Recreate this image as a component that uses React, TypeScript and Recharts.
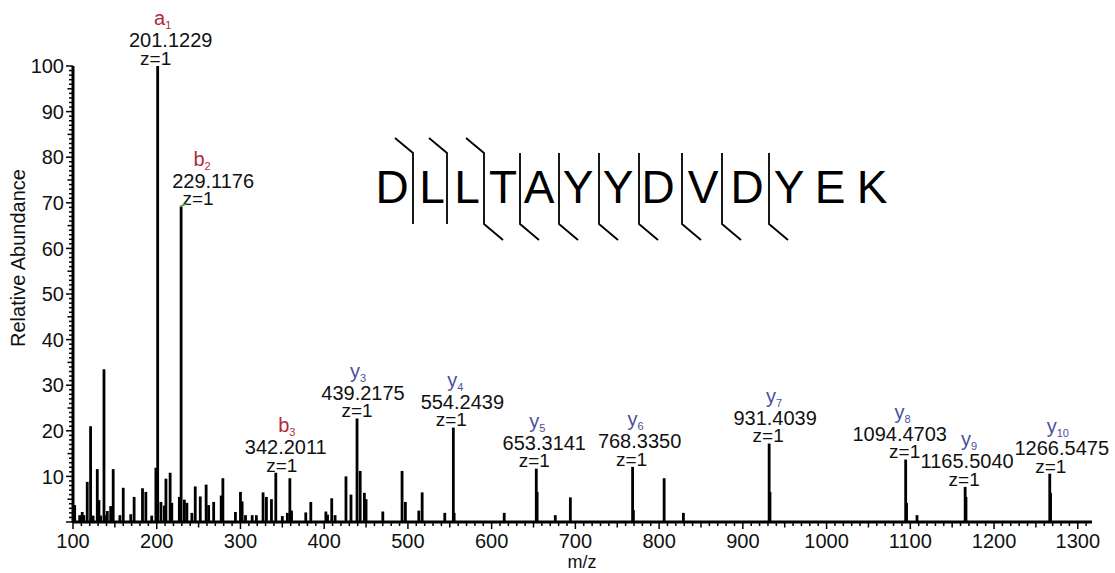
import React from 'react';
import { BarChart, Bar, XAxis, YAxis, LabelList } from 'recharts';

const FONT = '"Liberation Sans", Arial, Helvetica, sans-serif';
const RED = '#b3283c';
const BLUE = '#4b4f9e';

// unassigned peaks: m/z and relative abundance
const PEAK_MZ = [
  102, 108, 111, 113, 117, 121, 124, 129, 131, 133, 137, 140, 141, 145, 148, 156, 160, 169, 173, 183,
  187, 194, 199, 205, 209, 211, 216, 218, 227, 233, 236, 242, 246, 252, 259, 262, 268, 277, 279, 294,
  300, 302, 306, 314, 319, 327, 331, 337, 350, 356, 359, 361, 378, 384, 402, 404, 409, 413, 426, 432,
  443, 448, 450, 470, 493, 497, 513, 517, 544, 555.2, 615, 654.3, 676, 694, 769.3, 806, 829, 932.4,
  1095.5, 1108, 1166.5, 1267.5,
];
const PEAK_INT = [
  3.7, 1.5, 2.2, 1.5, 8.8, 21, 1.4, 11.6, 4.8, 1.4, 33.5, 1.5, 2.4, 3.5, 11.6, 1.5, 7.5, 1.7, 5.5, 7.4,
  6.6, 1.4, 11.9, 4.4, 3.6, 9.5, 10.8, 4.2, 5.5, 4.9, 4.2, 2, 7.8, 5.6, 8.2, 3.7, 4.4, 5.8, 9.6, 2.2,
  6.6, 4.5, 1.5, 1.5, 1.5, 6.5, 5.5, 5, 1.3, 2, 9.6, 2.5, 2.1, 4.4, 2.3, 1.6, 5.2, 1.5, 10, 6,
  11.2, 6.4, 5, 2.3, 11.2, 4.4, 2.5, 6.5, 2, 2, 2, 6.6, 1.5, 5.4, 2.6, 9.6, 2, 6.6,
  4.2, 1.5, 5.5, 6.4,
];

// annotated fragment ions
const ION_KEY = ['a1', 'b2', 'b3', 'y3', 'y4', 'y5', 'y6', 'y7', 'y8', 'y9', 'y10'];
const ION_TYPE = ['a', 'b', 'b', 'y', 'y', 'y', 'y', 'y', 'y', 'y', 'y'];
const ION_SUB = ['1', '2', '3', '3', '4', '5', '6', '7', '8', '9', '10'];
const ION_MZ = [201.1229, 229.1176, 342.2011, 439.2175, 554.2439, 653.3141, 768.335, 931.4039, 1094.4703, 1165.504, 1266.5475];
const ION_INT = [100, 69.2, 10.8, 22.7, 20.7, 11.7, 12.1, 17.2, 13.7, 7.7, 10.6];
const ION_Z = [1, 1, 1, 1, 1, 1, 1, 1, 1, 1, 1];

// label nudges [ion, m/z, charge] in px, relative to the peak
const LABEL_DX = [
  [5, 13, -2], [21, 32, 17], [11, 10, 6], [1, 6, 0], [2, 9, -2], [1, 8, -2],
  [3, 7, -1], [5, 6, -1], [-3, -6, -1], [4, 2, -1], [8, 12, 1],
];

const Y_MAJOR = [10, 20, 30, 40, 50, 60, 70, 80, 90, 100];
const X_MAJOR = [100, 200, 300, 400, 500, 600, 700, 800, 900, 1000, 1100, 1200, 1300];
const Y_TICKS = Array.from({ length: 101 }, (_, i) => i);
const X_TICKS = Array.from({ length: 122 }, (_, i) => 100 + i * 10);

const PEPTIDE = ['D', 'L', 'L', 'T', 'A', 'Y', 'Y', 'D', 'V', 'D', 'Y', 'E', 'K'];
const B_BREAKS = [1, 2, 3];
const Y_BREAKS = [3, 4, 5, 6, 7, 8, 9, 10];

// layout of the sequence graphic
const LETTER_X = [392, 432, 467, 503, 539, 578, 618, 658, 703, 747, 789, 830, 872];
const BREAK_X = [413, 447, 484, 520, 559, 599, 639, 682, 722, 769];

const data = [
  ...PEAK_MZ.map((mz, i) => ({ mz, inten: PEAK_INT[i], ion: undefined as string | undefined })),
  ...ION_MZ.map((mz, i) => ({ mz, inten: ION_INT[i], ion: ION_KEY[i] })),
].sort((a, b) => a.mz - b.mz);

const Stick = (props: any) => {
  const { x, y, width, height } = props;
  if (height == null || height <= 0) return null;
  return <rect x={x + width / 2 - 1.4} y={y} width={2.8} height={height} fill="#000" />;
};

const YTick = (props: any) => {
  const { x, y, payload } = props;
  const v = payload.value;
  const len = v % 10 === 0 ? 7 : v % 5 === 0 ? 5.5 : 4;
  return (
    <g>
      <line x1={x - len} x2={x} y1={y} y2={y} stroke="#000" strokeWidth={1.5} />
      {Y_MAJOR.includes(v) && (
        <text x={x - 9} y={y} dy="0.36em" textAnchor="end" fontFamily={FONT} fontSize={20} fill="#111">
          {v}
        </text>
      )}
    </g>
  );
};

const XTick = (props: any) => {
  const { x, y, payload } = props;
  const v = payload.value;
  const len = v % 100 === 0 ? 7 : v % 50 === 0 ? 5.5 : 4;
  return (
    <g>
      <line x1={x} x2={x} y1={y} y2={y + len} stroke="#000" strokeWidth={1.5} />
      {X_MAJOR.includes(v) && (
        <text x={x} y={y + 19} dy="0.36em" textAnchor="middle" fontFamily={FONT} fontSize={20} fill="#111">
          {v}
        </text>
      )}
    </g>
  );
};

const IonLabel = (props: any) => {
  const { x, y, width, value } = props;
  const i = ION_KEY.indexOf(value);
  if (i < 0) return null;
  const cx = x + width / 2;
  const [dIon, dNum, dZ] = LABEL_DX[i];
  const color = ION_TYPE[i] === 'y' ? BLUE : RED;
  return (
    <g fontFamily={FONT}>
      <text x={cx + dIon} y={y - 48} dy="0.36em" textAnchor="middle" fontSize={20} fill={color}>
        {ION_TYPE[i]}
        <tspan fontSize={11} dy={4}>{ION_SUB[i]}</tspan>
      </text>
      <text x={cx + dNum} y={y - 26} dy="0.36em" textAnchor="middle" fontSize={20} fill="#111">
        {ION_MZ[i].toFixed(4)}
      </text>
      <text x={cx + dZ} y={y - 8} dy="0.36em" textAnchor="middle" fontSize={19} fill="#111">
        {`z=${ION_Z[i]}`}
      </text>
      {value === 'b2' && <line x1={cx - 1} y1={y} x2={cx + 6} y2={y - 3} stroke="#3aa04a" strokeWidth={1.5} />}
    </g>
  );
};

const Sequence = () => (
  <svg width={1115} height={573} style={{ position: 'absolute', left: 0, top: 0, pointerEvents: 'none' }}>
    <g fontFamily={FONT}>
      {PEPTIDE.map((aa, i) => (
        <text key={i} x={LETTER_X[i]} y={203} textAnchor="middle" fontSize={46} fill="#000">
          {aa}
        </text>
      ))}
    </g>
    <g stroke="#000" strokeWidth={1.8} fill="none">
      {BREAK_X.map((bx, k) => {
        const brk = k + 1;
        const isB = B_BREAKS.includes(brk);
        const isY = Y_BREAKS.includes(brk);
        const pts = [
          ...(isB ? [[bx - 18, 138]] : []),
          [bx, 153],
          [bx, 224],
          ...(isY ? [[bx + 19, 240]] : []),
        ];
        return <polyline key={k} points={pts.map((p) => p.join(',')).join(' ')} />;
      })}
    </g>
    <text x={582} y={562} dy="0.36em" textAnchor="middle" fontFamily={FONT} fontSize={18} fill="#111">
      m/z
    </text>
    <text
      transform="translate(25,258) rotate(-90)"
      textAnchor="middle"
      fontFamily={FONT}
      fontSize={20}
      fill="#111"
    >
      Relative Abundance
    </text>
  </svg>
);

export default function App() {
  return (
    <div style={{ position: 'absolute', left: 0, top: 0, width: 1115, height: 573, background: '#fff' }}>
      <BarChart width={1115} height={573} data={data} margin={{ top: 66, right: 23, left: 0, bottom: 0 }}>
        <XAxis
          type="number"
          dataKey="mz"
          domain={[100, 1317]}
          allowDataOverflow
          ticks={X_TICKS}
          interval={0}
          height={51}
          tickSize={0}
          tickMargin={0}
          tickLine={false}
          tick={<XTick />}
          axisLine={{ stroke: '#000', strokeWidth: 3 }}
        />
        <YAxis
          type="number"
          domain={[0, 100]}
          allowDataOverflow
          ticks={Y_TICKS}
          interval={0}
          width={73}
          tickSize={0}
          tickMargin={0}
          tickLine={false}
          tick={<YTick />}
          axisLine={{ stroke: '#000', strokeWidth: 3 }}
        />
        <Bar dataKey="inten" shape={<Stick />} isAnimationActive={false}>
          <LabelList dataKey="ion" content={<IonLabel />} />
        </Bar>
      </BarChart>
      <Sequence />
    </div>
  );
}
